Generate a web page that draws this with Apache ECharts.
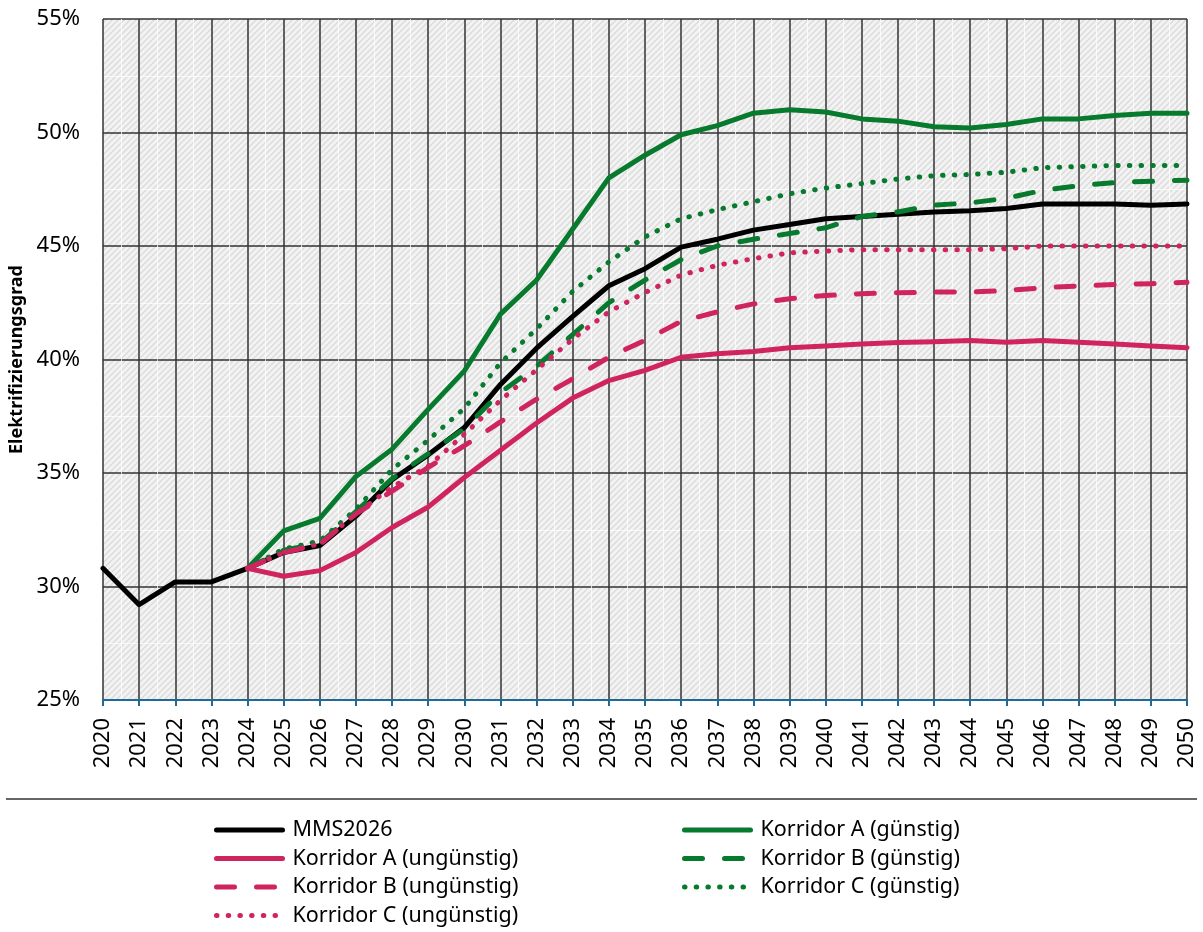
<!DOCTYPE html>
<html>
<head>
<meta charset="utf-8">
<script src="https://cdn.jsdelivr.net/npm/echarts@6/dist/echarts.min.js"></script>
<style>html,body{margin:0;padding:0;background:#fff}#c{width:1203px;height:932px}</style>
</head>
<body>
<div id="c"></div>
<script>
const years = [2020,2021,2022,2023,2024,2025,2026,2027,2028,2029,2030,2031,2032,2033,2034,2035,2036,2037,2038,2039,2040,2041,2042,2043,2044,2045,2046,2047,2048,2049,2050];
const yTicks = [25, 30, 35, 40, 45, 50, 55];

const mms2026 = [30.8,29.2,30.2,30.2,30.8,31.5,31.8,33.1,34.7,35.8,37.0,38.9,40.5,41.9,43.25,44.0,44.95,45.3,45.7,45.95,46.2,46.3,46.4,46.5,46.55,46.65,46.85,46.85,46.85,46.8,46.85];
const korrAGuenstig = [null,null,null,null,30.8,32.45,33.0,34.85,36.05,37.8,39.5,42.0,43.5,45.75,48.0,49.0,49.9,50.3,50.85,51.0,50.9,50.6,50.5,50.25,50.2,50.35,50.6,50.6,50.75,50.85,50.85];
const korrBGuenstig = [null,null,null,null,30.8,31.6,31.9,33.3,34.75,35.85,36.95,38.55,39.7,41.1,42.5,43.5,44.4,45.0,45.3,45.55,45.8,46.3,46.5,46.8,46.9,47.1,47.45,47.65,47.8,47.85,47.9];
const korrCGuenstig = [null,null,null,null,30.8,31.65,32.0,33.4,35.15,36.45,37.85,39.85,41.35,43.0,44.3,45.4,46.2,46.6,46.95,47.3,47.55,47.75,47.95,48.1,48.15,48.25,48.45,48.5,48.55,48.55,48.55];
const korrAUngue = [null,null,null,null,30.8,30.45,30.7,31.5,32.6,33.5,34.8,36.0,37.2,38.3,39.07,39.52,40.1,40.25,40.35,40.52,40.6,40.68,40.75,40.78,40.84,40.76,40.84,40.76,40.68,40.6,40.52];
const korrBUngue = [null,null,null,null,30.8,31.5,31.85,33.2,34.2,35.25,36.2,37.25,38.25,39.15,40.1,40.85,41.68,42.1,42.45,42.68,42.82,42.9,42.94,42.97,42.97,43.04,43.16,43.24,43.3,43.34,43.4];
const korrCUngue = [null,null,null,null,30.8,31.5,31.88,33.2,34.38,35.3,36.7,38.2,39.55,40.9,42.1,42.95,43.72,44.15,44.44,44.7,44.78,44.84,44.84,44.84,44.84,44.88,45.0,45.0,45.0,45.0,45.0];

const GREEN = '#077a2e', PINK = '#d02461', BLACK = '#000000';

// hatch pattern
const pc = document.createElement('canvas');
pc.width = 6; pc.height = 6;
const g = pc.getContext('2d');
g.fillStyle = '#f3f3f3'; g.fillRect(0,0,6,6);
g.strokeStyle = '#dcdcdc'; g.lineWidth = 1.5;
g.beginPath();
g.moveTo(-1,7); g.lineTo(7,-1);
g.moveTo(-4,4); g.lineTo(4,-4);
g.moveTo(2,10); g.lineTo(10,2);
g.stroke();

const pairs = arr => years.map((y,i) => [y, arr[i]]);
const FONT = 'Noto Sans';

function mk(name, data, color, type) {
  let t = 'solid';
  if (type === 'dash') t = [18, 22];
  if (type === 'dot') t = [0.5, 11.2];
  return {
    name, type: 'line', data: pairs(data), symbol: 'none', connectNulls: false,
    lineStyle: { color, width: 5, type: t, cap: 'round', join: 'round' },
    itemStyle: { color }, z: 3
  };
}

const legendCommon = {
  orient: 'vertical', top: 819, padding: 0, itemWidth: 66, itemHeight: 20, itemGap: 8.4,
  height: 150,
  itemStyle: { opacity: 0 },
  lineStyle: { width: 5, cap: 'round' },
  textStyle: { fontSize: 21.5, lineHeight: 20, color: '#000', fontFamily: FONT, padding: [0,0,0,5] }
};

const chart = echarts.init(document.getElementById('c'), null, {renderer: 'canvas'});
chart.setOption({
  animation: false,
  backgroundColor: '#ffffff',
  textStyle: { fontFamily: FONT, color: '#000' },
  grid: {
    left: 103, right: 16, top: 19, bottom: 232, show: true, containLabel: false,
    outerBoundsMode: 'none',
    backgroundColor: { image: pc, repeat: 'repeat' }, borderWidth: 0
  },
  xAxis: {
    type: 'value', min: 2020, max: 2050, interval: 1,
    axisLine: { show: true, onZero: false, lineStyle: { color: '#1f6a96', width: 2 } },
    axisTick: { show: true, length: 6, lineStyle: { color: '#1f6a96', width: 2 } },
    axisLabel: { rotate: 90, fontSize: 22, color: '#000', margin: 18, fontFamily: FONT,
      formatter: v => String(v) },
    splitLine: { show: true, lineStyle: { color: '#333333', width: 1.5 } },
    minorTick: { show: false, splitNumber: 2 },
    minorSplitLine: { show: true, lineStyle: { color: 'rgba(255,255,255,0.75)', width: 1 } }
  },
  yAxis: {
    type: 'value', min: yTicks[0], max: yTicks[yTicks.length-1], interval: 5,
    name: 'Elektrifizierungsgrad', nameLocation: 'middle', nameGap: 76, nameRotate: 90,
    nameTextStyle: { fontSize: 18, fontWeight: 'bold', color: '#000', fontFamily: FONT },
    axisLine: { show: false }, axisTick: { show: false },
    axisLabel: { fontSize: 22, color: '#000', margin: 23, fontFamily: FONT, formatter: v => v + '%' },
    splitLine: { show: true, lineStyle: { color: '#333333', width: 1.5 } },
    minorTick: { show: false, splitNumber: 2 },
    minorSplitLine: { show: true, lineStyle: { color: 'rgba(255,255,255,0.75)', width: 1 } }
  },
  legend: [
    Object.assign({}, legendCommon, {
      left: 214, itemGap: 6.5,
      data: ['MMS2026', 'Korridor A (ungünstig)', 'Korridor B (ungünstig)', 'Korridor C (ungünstig)']
    }),
    Object.assign({}, legendCommon, {
      left: 682, itemGap: 6.5,
      data: ['Korridor A (günstig)', 'Korridor B (günstig)', 'Korridor C (günstig)']
    })
  ],
  graphic: [
    { type: 'line', shape: { x1: 6, y1: 799, x2: 1197, y2: 799 }, style: { stroke: '#666666', lineWidth: 2 } }
  ],
  series: [
    mk('MMS2026', mms2026, BLACK, 'solid'),
    mk('Korridor A (günstig)', korrAGuenstig, GREEN, 'solid'),
    mk('Korridor B (günstig)', korrBGuenstig, GREEN, 'dash'),
    mk('Korridor C (günstig)', korrCGuenstig, GREEN, 'dot'),
    mk('Korridor A (ungünstig)', korrAUngue, PINK, 'solid'),
    mk('Korridor B (ungünstig)', korrBUngue, PINK, 'dash'),
    mk('Korridor C (ungünstig)', korrCUngue, PINK, 'dot')
  ]
});
</script>
</body>
</html>
